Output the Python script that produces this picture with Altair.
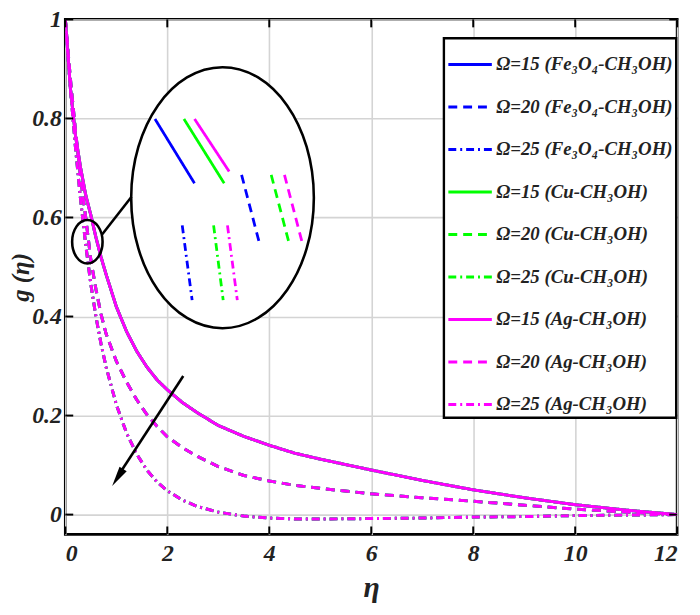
import altair as alt
import pandas as pd

# ---------------- data ----------------
eta = [0, 0.1, 0.2, 0.3, 0.4, 0.5, 0.6, 0.7, 0.8, 1.0, 1.2, 1.4, 1.6, 1.8, 2.0,
       2.3, 2.6, 3.0, 3.5, 4.0, 4.5, 5.0, 6.0, 7.0, 8.0, 9.0, 10.0, 11.0, 12.0]
g_omega15 = [1.0, 0.86, 0.765, 0.70, 0.645, 0.605, 0.56, 0.52, 0.485, 0.42, 0.37, 0.33, 0.298, 0.272, 0.252,
             0.226, 0.205, 0.18, 0.158, 0.14, 0.124, 0.112, 0.09, 0.069, 0.05, 0.034, 0.02, 0.009, 0.0]
g_omega20 = [1.0, 0.88, 0.775, 0.68, 0.60, 0.515, 0.455, 0.405, 0.365, 0.31, 0.268, 0.232, 0.202, 0.178, 0.157,
             0.135, 0.117, 0.097, 0.079, 0.068, 0.059, 0.053, 0.042, 0.034, 0.027, 0.019, 0.011, 0.005, 0.0]
g_omega25 = [1.0, 0.86, 0.74, 0.635, 0.545, 0.465, 0.40, 0.345, 0.298, 0.222, 0.165, 0.122, 0.09, 0.066, 0.048,
             0.029, 0.016, 0.005, -0.003, -0.007, -0.009, -0.009, -0.008, -0.007, -0.005, -0.004, -0.002, -0.001, 0.0]

omegas = [15, 20, 25]
fluid_keys = ["Fe", "Cu", "Ag"]
fluids = ["Fe\u2083O\u2084-CH\u2083OH", "Cu-CH\u2083OH", "Ag-CH\u2083OH"]
fluid_colors = ["#0000ff", "#00ff00", "#ff00ff"]
dash_styles = [[1, 0], [9, 6], [8, 4, 2, 4]]

x_ticks = [0, 2, 4, 6, 8, 10, 12]
y_ticks = [0, 0.2, 0.4, 0.6, 0.8, 1]

# zoom inset (data coordinates)
inset_fluid = ["Fe", "Cu", "Ag", "Fe", "Cu", "Ag", "Fe", "Cu", "Ag"]
inset_style = ["solid", "solid", "solid", "dash", "dash", "dash", "dashdot", "dashdot", "dashdot"]
inset_x1 = [1.758, 2.326, 2.534, 3.457, 4.038, 4.298, 2.293, 2.908, 3.180]
inset_y1 = [0.799, 0.799, 0.799, 0.686, 0.686, 0.686, 0.584, 0.584, 0.584]
inset_x2 = [2.534, 3.116, 3.213, 3.825, 4.407, 4.667, 2.487, 3.096, 3.373]
inset_y2 = [0.669, 0.669, 0.693, 0.541, 0.541, 0.541, 0.433, 0.433, 0.433]

big_ellipse = {"x": [3.083], "y": [0.640]}
small_ellipse = {"x": [0.432], "y": [0.551]}
connector = {"x": [0.717], "y": [0.565], "x2": [1.299], "y2": [0.642]}
arrow_line = {"x": [2.313], "y": [0.280], "x2": [1.09], "y2": [0.087]}
arrow_head = {"x": [1.026], "y": [0.075]}

# ---------------- build tables ----------------
series_names = []
series_colors = []
series_dashes = []
rows = []
g_lists = [g_omega15, g_omega20, g_omega25]
for fi, fl in enumerate(fluids):
    for oi, om in enumerate(omegas):
        name = f"\u03a9={om} ({fl})"
        series_names.append(name)
        series_colors.append(fluid_colors[fi])
        series_dashes.append(dash_styles[oi])
        for e, g in zip(eta, g_lists[oi]):
            rows.append({"eta": e, "g": g, "series": name, "fluid": fluid_keys[fi]})
curves = pd.DataFrame(rows)

FONT = "Liberation Serif"
XDOM = [0, 12]
YDOM = [-0.04, 1]

xs = alt.Scale(domain=XDOM, nice=False, zero=False)
ys = alt.Scale(domain=YDOM, nice=False, zero=False)

x_axis = alt.Axis(values=x_ticks, format="~g", title="\u03b7", grid=True, domain=False, ticks=False,
                  labelFont=FONT, labelFontSize=24, labelFontStyle="italic", labelFontWeight="bold",
                  labelColor="#222", labelPadding=7, titleFont=FONT, titleFontSize=30,
                  titleFontStyle="italic", titleFontWeight="bold", titleColor="#222", titlePadding=8,
                  gridColor="#d4d4d4", gridWidth=1.6)
y_axis = alt.Axis(values=y_ticks, format="~g", title="g (\u03b7)", grid=True, domain=False, ticks=False,
                  labelFont=FONT, labelFontSize=24, labelFontStyle="italic", labelFontWeight="bold",
                  labelColor="#222", labelPadding=4, titleFont=FONT, titleFontSize=25,
                  titleFontStyle="italic", titleFontWeight="bold", titleColor="#222", titlePadding=-2,
                  gridColor="#d4d4d4", gridWidth=1.6)

legend_spec = dict(
    title=None, orient="none", legendX=383, legendY=19,
    symbolType="stroke", symbolSize=1936, symbolStrokeWidth=3,
    labelFont=FONT, labelFontSize=19, labelFontStyle="italic",
    labelFontWeight="bold", labelColor="#222", labelLimit=400,
    rowPadding=9, padding=3, strokeColor="black",
    fillColor="white", labelOffset=3)

ellipse_path = ("M0,-1 C0.3866,-1 0.7,-0.5523 0.7,0 C0.7,0.5523 0.3866,1 0,1 "
                "C-0.3866,1 -0.7,0.5523 -0.7,0 C-0.7,-0.5523 -0.3866,-1 0,-1 Z")

# base layer with axes (grid)
big_ell = alt.Chart(pd.DataFrame(big_ellipse)).mark_point(
    shape=ellipse_path, size=264 ** 2, fill="white", fillOpacity=1, stroke="black",
    strokeWidth=2.6, opacity=1, filled=True
).encode(x=alt.X("x:Q", scale=xs, axis=x_axis), y=alt.Y("y:Q", scale=ys, axis=y_axis))

line_layers = []
for fk in fluid_keys:
    line_layers.append(
        alt.Chart(curves).transform_filter(alt.datum.fluid == fk).mark_line(strokeWidth=3, clip=True).encode(
            x=alt.X("eta:Q", scale=xs),
            y=alt.Y("g:Q", scale=ys),
            color=alt.Color("series:N", sort=series_names,
                            scale=alt.Scale(domain=series_names, range=series_colors),
                            legend=alt.Legend(**legend_spec)),
            strokeDash=alt.StrokeDash("series:N", sort=series_names,
                                      scale=alt.Scale(domain=series_names, range=series_dashes),
                                      legend=alt.Legend(**legend_spec)),
        )
    )

inset_df = pd.DataFrame({"fluid": inset_fluid, "style": inset_style,
                         "x": inset_x1, "y": inset_y1, "x2": inset_x2, "y2": inset_y2})
inset_layers = []
for st, dash in zip(["solid", "dash", "dashdot"], dash_styles):
    inset_layers.append(
        alt.Chart(inset_df).transform_filter(alt.datum.style == st).mark_rule(
            strokeWidth=2.8, strokeDash=dash
        ).encode(
            x=alt.X("x:Q", scale=xs), y=alt.Y("y:Q", scale=ys),
            x2="x2:Q", y2="y2:Q",
            stroke=alt.Stroke("fluid:N", scale=alt.Scale(domain=fluid_keys, range=fluid_colors),
                              legend=None),
        )
    )

small_ell = alt.Chart(pd.DataFrame(small_ellipse)).mark_point(
    shape=ellipse_path, size=44 ** 2, filled=False, stroke="black", strokeWidth=2.6, opacity=1
).encode(x=alt.X("x:Q", scale=xs), y=alt.Y("y:Q", scale=ys))

conn = alt.Chart(pd.DataFrame(connector)).mark_rule(color="black", strokeWidth=2.6).encode(
    x=alt.X("x:Q", scale=xs), y=alt.Y("y:Q", scale=ys), x2="x2:Q", y2="y2:Q")

arr = alt.Chart(pd.DataFrame(arrow_line)).mark_rule(color="black", strokeWidth=2.6).encode(
    x=alt.X("x:Q", scale=xs), y=alt.Y("y:Q", scale=ys), x2="x2:Q", y2="y2:Q")

arr_head = alt.Chart(pd.DataFrame(arrow_head)).mark_point(
    shape="M0,-1L0.42,1L-0.42,1Z", size=420, filled=True, color="black", opacity=1, angle=212.8
).encode(x=alt.X("x:Q", scale=xs), y=alt.Y("y:Q", scale=ys))

# inward ticks (box style)
xt = pd.DataFrame({"t": x_ticks})
yt = pd.DataFrame({"t": y_ticks})
tick_style = dict(color="black", thickness=2, size=8, opacity=1)
ticks_bottom = alt.Chart(xt).mark_tick(orient="vertical", yOffset=-4, **tick_style).encode(
    x=alt.X("t:Q", scale=xs), y=alt.datum(YDOM[0], scale=ys))
ticks_top = alt.Chart(xt).mark_tick(orient="vertical", yOffset=4, **tick_style).encode(
    x=alt.X("t:Q", scale=xs), y=alt.datum(YDOM[1], scale=ys))
ticks_left = alt.Chart(yt).mark_tick(orient="horizontal", xOffset=4, **tick_style).encode(
    y=alt.Y("t:Q", scale=ys), x=alt.datum(XDOM[0], scale=xs))
ticks_right = alt.Chart(yt).mark_tick(orient="horizontal", xOffset=-4, **tick_style).encode(
    y=alt.Y("t:Q", scale=ys), x=alt.datum(XDOM[1], scale=xs))

chart = alt.layer(
    big_ell, *inset_layers, *line_layers, small_ell, conn, arr, arr_head,
    ticks_bottom, ticks_top, ticks_left, ticks_right
).properties(
    width=619, height=521,
    autosize=alt.AutoSizeParams(type="none"),
    padding={"left": 58, "top": 8, "right": 15, "bottom": 80},
    background="white",
).configure_view(stroke="black", strokeWidth=2.8).configure_legend(strokeWidth=2.4)

chart.save("out.html", embed_options={"renderer": "svg", "actions": False})
